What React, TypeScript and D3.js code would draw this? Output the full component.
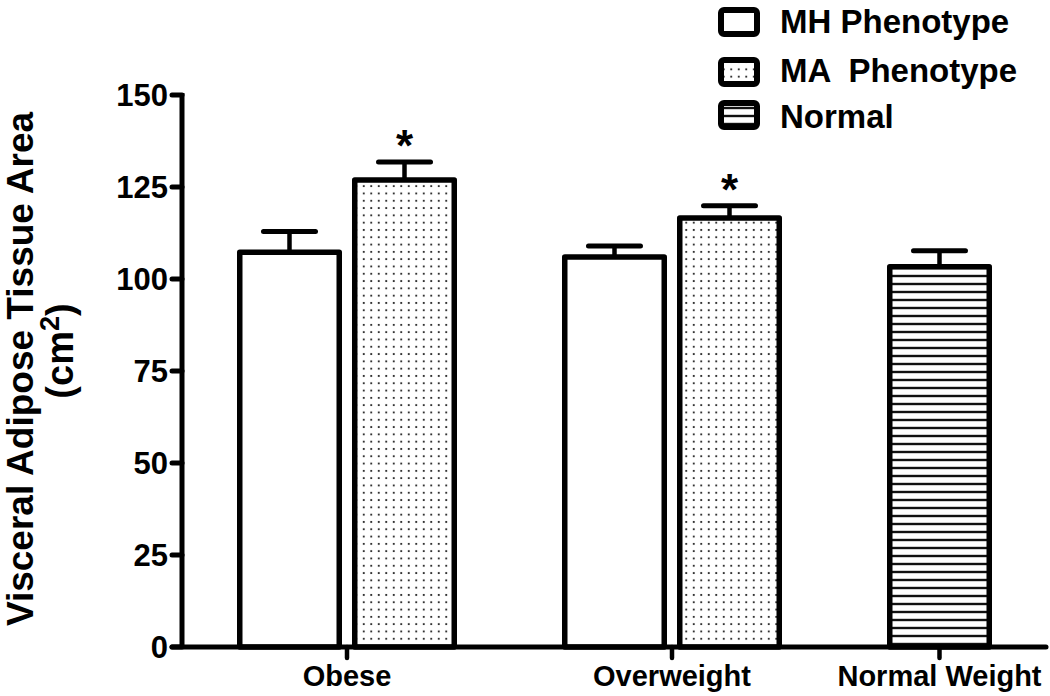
import React from "react";
import * as d3 from "d3";

const categories = ["Obese", "Overweight", "Normal Weight"];
const seriesNames = ["MH Phenotype", "MA  Phenotype", "Normal"];
const seriesKeys = ["mh", "ma", "normal"];
const mhValues: (number | null)[] = [107.3, 106.0, null];
const mhErrors: (number | null)[] = [5.6, 3.0, null];
const maValues: (number | null)[] = [126.9, 116.6, null];
const maErrors: (number | null)[] = [4.9, 3.3, null];
const normalValues: (number | null)[] = [null, null, 103.3];
const normalErrors: (number | null)[] = [null, null, 4.4];
const maSignificant = [true, true, false];
const yTicks = [0, 25, 50, 75, 100, 125, 150];

const W = 1050;
const H = 696;
const FONT = "'Liberation Sans', Arial, Helvetica, sans-serif";

export default function App() {
  const y = d3.scaleLinear().domain([0, 150]).range([647, 95]);
  const x0 = d3.scaleBand<string>().domain(categories).range([237, 237 + 325 * 3]).paddingInner(0).paddingOuter(0);
  const x1 = d3.scaleBand<number>().domain([0, 1]).range([0, 220]).paddingInner(0.087).paddingOuter(0);
  const bw = x1.bandwidth();
  const sw = 5.5;

  const values: Record<string, (number | null)[]> = { mh: mhValues, ma: maValues, normal: normalValues };
  const errors: Record<string, (number | null)[]> = { mh: mhErrors, ma: maErrors, normal: normalErrors };
  const fills: Record<string, string> = { mh: "#ffffff", ma: "url(#dots)", normal: "url(#hlines)" };

  const bars: any[] = [];
  const ticks: { cat: string; cx: number }[] = [];
  categories.forEach((cat, ci) => {
    const present = seriesKeys.filter((k) => values[k][ci] != null);
    const centers: number[] = [];
    present.forEach((k, j) => {
      const x = (x0(cat) as number) + (x1(j) as number);
      const v = values[k][ci] as number;
      const e = errors[k][ci] as number;
      centers.push(x + bw / 2);
      bars.push({ key: k + ci, k, x, v, e, sig: k === "ma" && maSignificant[ci] });
    });
    ticks.push({ cat, cx: d3.mean(centers) as number });
  });

  return (
    <svg width={W} height={H} style={{ position: "absolute", left: 0, top: 0, background: "#fff" }} fontFamily={FONT}>
      <defs>
        <pattern id="dots" width={7.5} height={7.3} patternUnits="userSpaceOnUse">
          <rect width={7.5} height={7.3} fill="#fff" />
          <rect x={2.8} y={2.7} width={1.9} height={1.9} fill="#333" />
        </pattern>
        <pattern id="hlines" width={8} height={8} patternUnits="userSpaceOnUse">
          <rect width={8} height={8} fill="#fff" />
          <line x1={0} x2={8} y1={4} y2={4} stroke="#111" strokeWidth={2.4} />
        </pattern>
      </defs>
      <rect width={W} height={H} fill="#fff" />

      {/* bars */}
      {bars.map((b) => {
        const cx = b.x + bw / 2;
        const top = y(b.v);
        const capY = y(b.v + b.e);
        return (
          <g key={b.key}>
            <line x1={cx} x2={cx} y1={top} y2={capY} stroke="#000" strokeWidth={4.5} />
            <line x1={cx - 26} x2={cx + 26} y1={capY} y2={capY} stroke="#000" strokeWidth={5} strokeLinecap="round" />
            <rect
              x={b.x + sw / 2}
              y={top}
              width={bw - sw}
              height={y(0) - top}
              fill={fills[b.k]}
              stroke="#000"
              strokeWidth={sw}
              strokeLinejoin="round"
            />
            {b.sig && (
              <text x={cx} y={capY - 1} textAnchor="middle" fontSize={44} fontWeight="bold">
                *
              </text>
            )}
          </g>
        );
      })}

      {/* y axis */}
      <line x1={182} x2={182} y1={y(150) - 2} y2={y(0)} stroke="#000" strokeWidth={5} />
      {yTicks.map((t) => (
        <g key={t}>
          <line x1={172} x2={182} y1={y(t)} y2={y(t)} stroke="#000" strokeWidth={5} strokeLinecap="round" />
          <text x={168} y={y(t)} dy="0.36em" textAnchor="end" fontSize={31} fontWeight="bold">
            {t}
          </text>
        </g>
      ))}

      {/* x axis */}
      <line x1={172} x2={1046} y1={y(0)} y2={y(0)} stroke="#000" strokeWidth={5} strokeLinecap="round" />
      {ticks.map((t) => (
        <g key={t.cat}>
          <line x1={t.cx} x2={t.cx} y1={y(0)} y2={y(0) + 11} stroke="#000" strokeWidth={4.5} strokeLinecap="round" />
          <text x={t.cx} y={686} textAnchor="middle" fontSize={29} fontWeight="bold">
            {t.cat}
          </text>
        </g>
      ))}

      {/* y title */}
      <text transform={`translate(33, 369) rotate(-90)`} textAnchor="middle" fontSize={37} fontWeight="bold">
        Visceral Adipose Tissue Area
      </text>
      <text transform={`translate(73, 351) rotate(-90)`} textAnchor="middle" fontSize={38} fontWeight="bold">
        (cm<tspan fontSize={27} dy={-14}>2</tspan>
        <tspan dy={14}>)</tspan>
      </text>

      {/* legend */}
      {seriesKeys.map((k, i) => {
        const by = [10, 60, 103][i];
        const ty = [33, 82, 128][i];
        return (
          <g key={k}>
            <rect x={721} y={by} width={36} height={24} rx={3} fill={fills[k]} stroke="#000" strokeWidth={6} />
            <text x={780} y={ty} fontSize={33} fontWeight="bold" style={{ whiteSpace: "pre" }}>
              {seriesNames[i]}
            </text>
          </g>
        );
      })}
    </svg>
  );
}
